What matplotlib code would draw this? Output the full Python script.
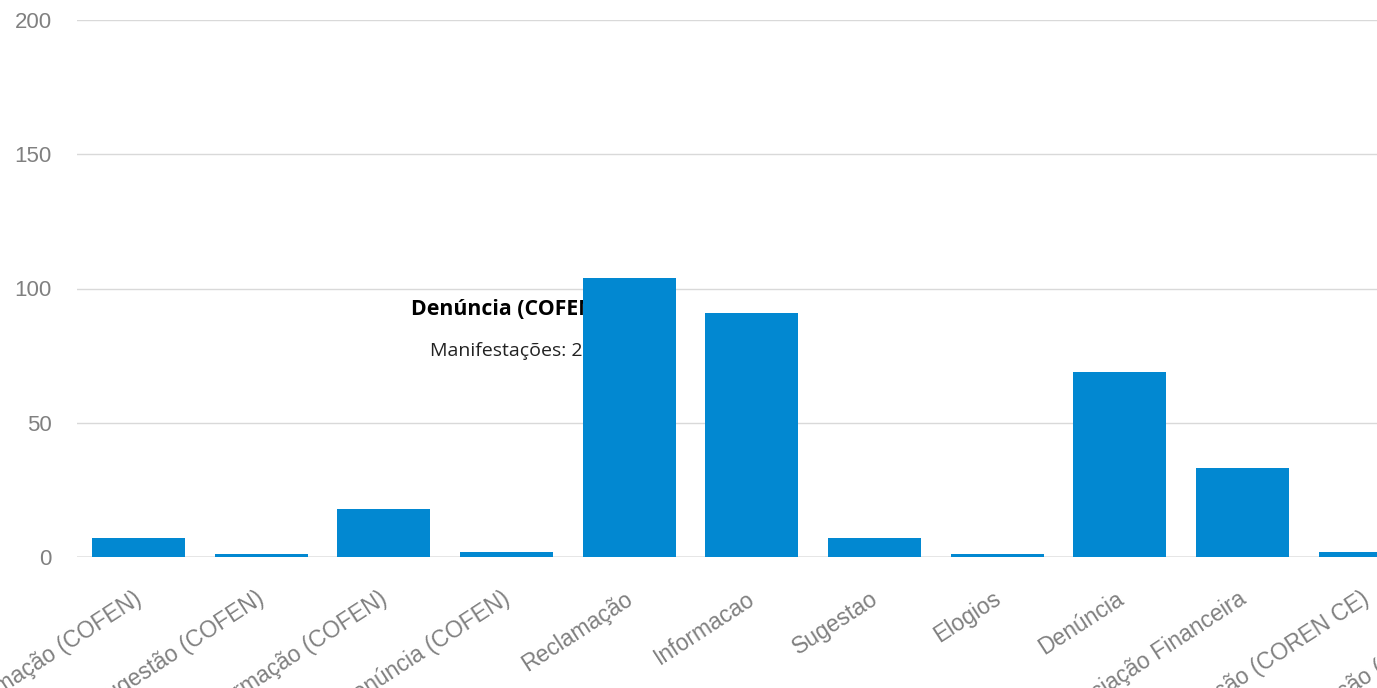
import matplotlib
matplotlib.use("Agg")
import matplotlib.pyplot as plt
import matplotlib.transforms as mtransforms

# ── Data ─────────────────────────────────────────────────────
categories = [
    "Reclamação (COFEN)", "Sugestão (COFEN)", "Informação (COFEN)",
    "Denúncia (COFEN)", "Reclamação", "Informacao", "Sugestao",
    "Elogios", "Denúncia", "Negociação Financeira",
    "Informação (COREN CE)", "Reclamação (COREN CE)",
]
manifestacoes = [7, 1, 18, 2, 104, 91, 7, 1, 69, 33, 2, 5]
y_ticks = [0, 50, 100, 150, 200]

tooltip_title = "Denúncia (COFEN)"
tooltip_body = "Manifestações: 2"

BAR_COLOR = "#0288d1"
LABEL_COLOR = "#808080"

# ── Figure ───────────────────────────────────────────────────
fig = plt.figure(figsize=(13.77, 6.88), dpi=100)
ax = fig.add_axes([77 / 1377, 131 / 688, 1300 / 1377, 537 / 688])

x = list(range(len(categories)))
ax.bar(x, manifestacoes, width=0.758, color=BAR_COLOR, zorder=3)

ax.set_xlim(-0.5, 10.095)
ax.set_ylim(0, 200)
ax.set_yticks(y_ticks)
ax.set_yticklabels([str(v) for v in y_ticks], fontsize=16,
                   family="Liberation Sans", color=LABEL_COLOR)
ax.tick_params(axis="y", length=0, pad=18)
ax.set_xticks([])
for s in ax.spines.values():
    s.set_visible(False)

for v in y_ticks[1:]:
    ax.axhline(v, color="#d9d9d9", lw=1, zorder=0)
ax.axhline(0, color="#e3e3e3", lw=2, zorder=0)

# category labels (drawn by hand so the cut-off ones still show)
base = mtransforms.blended_transform_factory(ax.transData, ax.transAxes)
off = mtransforms.ScaledTranslation(-0.05, -0.30, fig.dpi_scale_trans)
for i, label in enumerate(categories):
    ax.text(i, 0, label, transform=base + off, rotation=33,
            rotation_mode="anchor", ha="right", va="top",
            fontsize=16.5, family="Liberation Sans", color=LABEL_COLOR,
            clip_on=False)

# leftover tooltip text, sits behind the bars
ax.text(3, 92.2, tooltip_title, ha="center", va="center", fontsize=15.3,
        fontweight="bold", family="Open Sans", color="black", zorder=1)
ax.text(3, 76.9, tooltip_body, ha="center", va="center", fontsize=14,
        family="Open Sans", color="#222222", zorder=1)

plt.savefig("out.png", dpi=100)
plt.close()
